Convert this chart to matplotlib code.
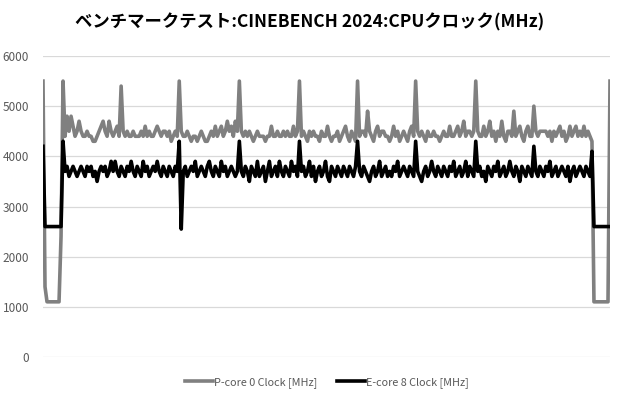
import matplotlib
matplotlib.use("Agg")
import matplotlib.pyplot as plt

plt.rcParams['font.family'] = ['Noto Sans CJK JP', 'DejaVu Sans']

title = "ベンチマークテスト:CINEBENCH 2024:CPUクロック(MHz)"
p_label = "P-core 0 Clock [MHz]"
e_label = "E-core 8 Clock [MHz]"
y_ticks = [0, 1000, 2000, 3000, 4000, 5000, 6000]

# P-core 0 clock, one sample per step
p_clock = [
    5500, 1400, 1100, 1100, 1100, 1100, 1100, 1100, 1100, 2400,
    5500, 4400, 4800, 4500, 4800, 4600, 4400, 4500, 4700, 4500,
    4400, 4400, 4500, 4400, 4400, 4300, 4300, 4400, 4500, 4600,
    4700, 4500, 4400, 4700, 4500, 4400, 4500, 4600, 4400, 5400,
    4500, 4400, 4500, 4400, 4400, 4500, 4400, 4400, 4400, 4500,
    4400, 4600, 4400, 4500, 4400, 4400, 4500, 4600, 4500, 4400,
    4500, 4500, 4400, 4500, 4300, 4400, 4500, 4400, 5500, 4500,
    4400, 4400, 4500, 4400, 4300, 4400, 4400, 4300, 4400, 4500,
    4400, 4300, 4300, 4400, 4500, 4400, 4600, 4400, 4500, 4600,
    4400, 4500, 4700, 4500, 4600, 4400, 4700, 4500, 5500, 4500,
    4400, 4500, 4400, 4500, 4400, 4300, 4400, 4500, 4400, 4400,
    4400, 4300, 4400, 4400, 4600, 4400, 4400, 4500, 4400, 4400,
    4500, 4400, 4500, 4400, 4400, 4600, 4400, 4500, 5500, 4400,
    4500, 4400, 4300, 4500, 4400, 4500, 4400, 4400, 4300, 4500,
    4400, 4400, 4600, 4400, 4300, 4400, 4400, 4500, 4300, 4400,
    4500, 4600, 4400, 4300, 4500, 4400, 4300, 5500, 4400, 4500,
    4500, 4400, 4900, 4500, 4400, 4300, 4500, 4600, 4400, 4500,
    4500, 4400, 4400, 4300, 4400, 4600, 4400, 4500, 4300, 4400,
    4500, 4400, 4300, 4500, 4600, 4400, 5500, 4500, 4400, 4500,
    4400, 4300, 4500, 4400, 4400, 4500, 4400, 4400, 4300, 4400,
    4500, 4400, 4400, 4600, 4400, 4400, 4500, 4600, 4400, 4500,
    4700, 4400, 4500, 4500, 4400, 4500, 5500, 4500, 4400, 4400,
    4600, 4400, 4500, 4700, 4400, 4500, 4300, 4500, 4400, 4700,
    4400, 4300, 4500, 4500, 4400, 4900, 4400, 4500, 4600, 4400,
    4300, 4500, 4600, 4400, 4400, 5000, 4500, 4400, 4500, 4500,
    4500, 4500, 4400, 4500, 4300, 4500, 4400, 4500, 4600, 4400,
    4500, 4300, 4400, 4600, 4400, 4500, 4600, 4400, 4500, 4400,
    4600, 4400, 4500, 4400, 4300, 1100, 1100, 1100, 1100, 1100,
    1100, 1100, 1100, 5500,
]

# E-core 8 clock
e_clock = [
    4200, 2600, 2600, 2600, 2600, 2600, 2600, 2600, 2600, 2600,
    4300, 3700, 3800, 3600, 3700, 3800, 3700, 3600, 3700, 3800,
    3700, 3600, 3800, 3700, 3800, 3600, 3700, 3500, 3700, 3800,
    3700, 3800, 3600, 3700, 3900, 3700, 3900, 3700, 3600, 3800,
    3700, 3600, 3800, 3700, 3900, 3700, 3600, 3800, 3700, 3600,
    3900, 3700, 3800, 3600, 3700, 3800, 3700, 3900, 3700, 3600,
    3800, 3700, 3600, 3800, 3700, 3600, 3800, 3700, 4300, 2550,
    3700, 3800, 3600, 3700, 3800, 3700, 3900, 3600, 3700, 3800,
    3700, 3600, 3800, 3900, 3700, 3600, 3800, 3700, 3600, 3900,
    3700, 3800, 3600, 3700, 3800, 3700, 3600, 3700, 4300, 3700,
    3600, 3800, 3700, 3500, 3800, 3700, 3600, 3900, 3600, 3700,
    3800, 3500, 3700, 3900, 3600, 3700, 3800, 3600, 3900, 3700,
    3600, 3800, 3700, 3600, 3900, 3700, 3800, 3600, 4300, 3700,
    3800, 3600, 3700, 3900, 3600, 3800, 3500, 3700, 3800, 3600,
    3700, 3900, 3600, 3500, 3800, 3700, 3600, 3800, 3700, 3600,
    3800, 3700, 3600, 3800, 3700, 3600, 3800, 4300, 3700, 3600,
    3800, 3700, 3600, 3500, 3700, 3800, 3600, 3700, 3900, 3600,
    3700, 3800, 3600, 3700, 3600, 3800, 3700, 3900, 3600, 3700,
    3800, 3700, 3600, 3800, 3700, 3600, 4300, 3700, 3600, 3500,
    3700, 3800, 3600, 3700, 3900, 3700, 3600, 3800, 3700, 3600,
    3800, 3700, 3600, 3800, 3700, 3900, 3600, 3700, 3800, 3600,
    3700, 3900, 3600, 3800, 3700, 3600, 4300, 3700, 3800, 3600,
    3700, 3500, 3800, 3700, 3600, 3800, 3700, 3900, 3600, 3700,
    3800, 3600, 3700, 3900, 3700, 3600, 3800, 3700, 3500, 3800,
    3700, 3600, 3800, 3700, 3600, 4200, 3700, 3600, 3800, 3700,
    3600, 3800, 3700, 3900, 3600, 3700, 3800, 3600, 3700, 3800,
    3700, 3600, 3800, 3500, 3700, 3800, 3600, 3700, 3800, 3700,
    3600, 3800, 3700, 3600, 4100, 2600, 2600, 2600, 2600, 2600,
    2600, 2600, 2600, 2600,
]

fig = plt.figure(figsize=(6.2, 4.0), dpi=100)
ax = fig.add_axes([43 / 620, 1 - 357 / 400, 567 / 620, 301 / 400])

ax.plot(range(len(p_clock)), p_clock, color='#808080', lw=2.6, label=p_label)
ax.plot(range(len(e_clock)), e_clock, color='#000000', lw=2.6, label=e_label)

ax.set_xlim(0, len(p_clock) - 1)
ax.set_ylim(0, 6000)
ax.set_yticks(y_ticks)
ax.set_xticks([])
ax.grid(axis='y', color='#d9d9d9', lw=0.9)
ax.set_axisbelow(True)
for s in ax.spines.values():
    s.set_visible(False)
ax.tick_params(axis='y', length=0, pad=10, labelsize=8.5, labelcolor='#595959')

fig.text(0.5, 1 - 22 / 400, title, ha='center', va='center',
         fontsize=12.5, fontweight='bold', color='#000000')

ax.legend(loc='center', bbox_to_anchor=(0.5, -0.085), ncol=2, frameon=False,
          fontsize=7.8, labelcolor='#595959', handlelength=2.6, handletextpad=0.1,
          columnspacing=1.8)

fig.savefig('out.png', dpi=100)
